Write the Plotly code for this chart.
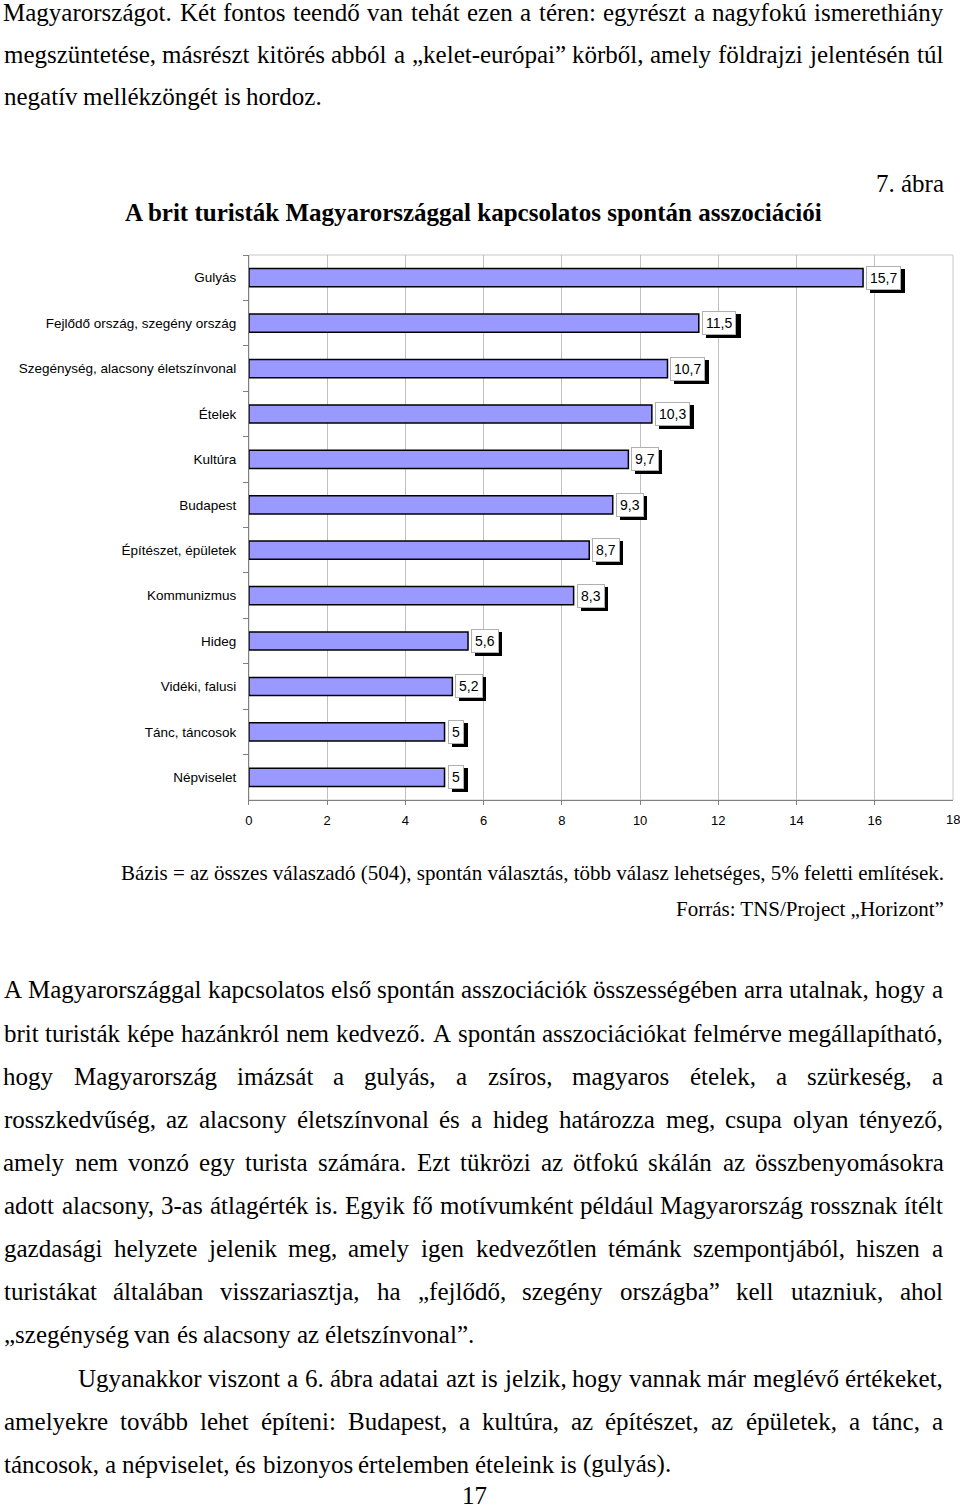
import plotly.graph_objects as go

# ---------------- chart data ----------------
categories = ["Gulyás", "Fejlődő ország, szegény ország", "Szegénység, alacsony életszínvonal",
              "Ételek", "Kultúra", "Budapest", "Építészet, épületek", "Kommunizmus",
              "Hideg", "Vidéki, falusi", "Tánc, táncosok", "Népviselet"]
values = [15.7, 11.5, 10.7, 10.3, 9.7, 9.3, 8.7, 8.3, 5.6, 5.2, 5, 5]
x_ticks = [0, 2, 4, 6, 8, 10, 12, 14, 16, 18]

# ---------------- page text ----------------
top_lines = [
    "Magyarországot. Két fontos teendő van tehát ezen a téren: egyrészt a nagyfokú ismerethiány",
    "megszüntetése, másrészt kitörés abból a „kelet-európai” körből, amely földrajzi jelentésén túl",
    "negatív mellékzöngét is hordoz.",
]
top_justify = [True, True, False]
fig_no = "7. ábra"
title = "A brit turisták Magyarországgal kapcsolatos spontán asszociációi"
caption = "Bázis = az összes válaszadó (504), spontán választás, több válasz lehetséges, 5% feletti említések."
source = "Forrás: TNS/Project „Horizont”"
body_lines = [
    "A Magyarországgal kapcsolatos első spontán asszociációk összességében arra utalnak, hogy a",
    "brit turisták képe hazánkról nem kedvező. A spontán asszociációkat felmérve megállapítható,",
    "hogy Magyarország imázsát a gulyás, a zsíros, magyaros ételek, a szürkeség, a",
    "rosszkedvűség, az alacsony életszínvonal és a hideg határozza meg, csupa olyan tényező,",
    "amely nem vonzó egy turista számára. Ezt tükrözi az ötfokú skálán az összbenyomásokra",
    "adott alacsony, 3-as átlagérték is. Egyik fő motívumként például Magyarország rossznak ítélt",
    "gazdasági helyzete jelenik meg, amely igen kedvezőtlen témánk szempontjából, hiszen a",
    "turistákat általában visszariasztja, ha „fejlődő, szegény országba” kell utazniuk, ahol",
    "„szegénység van és alacsony az életszínvonal”.",
    "Ugyanakkor viszont a 6. ábra adatai azt is jelzik, hogy vannak már meglévő értékeket,",
    "amelyekre tovább lehet építeni: Budapest, a kultúra, az építészet, az épületek, a tánc, a",
    "táncosok, a népviselet, és bizonyos értelemben ételeink is (gulyás).",
]
body_justify = [True, True, True, True, True, True, True, True, False, True, True, False]
body_indent = [0, 0, 0, 0, 0, 0, 0, 0, 0, 75, 0, 0]
page_no = "17"

# ---------------- layout constants ----------------
W, H = 960, 1508
SERIF = "Liberation Serif, Times New Roman, serif"
SANS = "Liberation Sans, Arial, sans-serif"
FS = 25
PLOT_L, PLOT_R, PLOT_T, PLOT_B = 246, 953, 255, 800
TEXT_L, TEXT_R = 0, 943
PAD_L, PAD_R = -5, 2   # compensate annotation box padding at text edges

# Times Roman advance widths (1/1000 em)
TW = {' ': 250, '!': 333, '"': 408, '%': 833, '(': 333, ')': 333, ',': 250, '-': 333, '.': 250,
      '/': 278, ':': 278, ';': 278, '=': 564, '„': 444, '”': 444, '“': 444}
for d in "0123456789":
    TW[d] = 500
TW.update(dict(zip("ABCDEFGHIJKLMNOPQRSTUVWXYZ",
                   [722, 667, 667, 722, 611, 556, 722, 722, 333, 389, 722, 611, 889, 722, 722, 556,
                    722, 667, 556, 611, 722, 722, 944, 722, 722, 611])))
TW.update(dict(zip("abcdefghijklmnopqrstuvwxyz",
                   [444, 500, 444, 500, 444, 333, 500, 500, 278, 278, 500, 278, 778, 500, 500, 500,
                    500, 333, 389, 278, 500, 500, 722, 500, 500, 444])))
TW.update({'á': 444, 'é': 444, 'í': 278, 'ó': 500, 'ö': 500, 'ő': 500, 'ú': 500, 'ü': 500, 'ű': 500,
           'Á': 722, 'É': 611, 'Í': 333, 'Ó': 722, 'Ö': 722, 'Ő': 722, 'Ú': 722, 'Ü': 722, 'Ű': 722})


def tw(s, size=FS):
    return sum(TW.get(c, 500) for c in s) * size / 1000.0


def px(x):
    return x / W


def py(y):
    return 1 - y / H


annotations = []


def text_ann(text, x, y, anchor="left", size=FS, bold=False):
    shift = PAD_L if anchor == "left" else (PAD_R if anchor == "right" else 0)
    annotations.append(dict(
        text=f"<b>{text}</b>" if bold else text, x=px(x), y=py(y), xref="paper", yref="paper",
        xanchor=anchor, yanchor="middle", showarrow=False, borderpad=0, xshift=shift,
        font=dict(family=SERIF, size=size, color="black")))


def place_line(line, y, x0, x1, justify):
    # every word is centred on its computed slot so width-table errors spread evenly
    words = line.split(" ")
    widths = [tw(w) for w in words]
    if justify and len(words) > 1:
        gap = (x1 - x0 - sum(widths)) / (len(words) - 1)
    else:
        gap = tw(" ")
    x = x0
    for w, wd in zip(words, widths):
        text_ann(w, x + wd / 2, y, anchor="center")
        x += wd + gap


top_y = [12, 54, 97]
for line, j, y in zip(top_lines, top_justify, top_y):
    place_line(line, y, TEXT_L, TEXT_R, j)

text_ann(fig_no, TEXT_R, 183, anchor="right")
text_ann(title, (TEXT_L + TEXT_R) / 2, 212, anchor="center", bold=True)
text_ann(caption, TEXT_R, 873, anchor="right", size=21)
text_ann(source, TEXT_R, 909, anchor="right", size=21)

body_y = [990, 1033, 1076, 1119, 1162, 1205, 1248, 1291, 1334, 1378, 1421, 1464]
for line, j, ind, y in zip(body_lines, body_justify, body_indent, body_y):
    place_line(line, y, TEXT_L + ind, TEXT_R, j)

text_ann(page_no, 472, 1495, anchor="center")

# last x tick label sits on the figure edge: draw it as an annotation so it is not hidden
TICK_Y = 820
annotations.append(dict(
    text=str(x_ticks[-1]), x=x_ticks[-1], xref="x", y=py(TICK_Y), yref="paper",
    xanchor="center", yanchor="middle", showarrow=False, borderpad=0,
    font=dict(family=SANS, size=13, color="black")))

# ---------------- value labels with shadow ----------------
def fmt(v):
    s = f"{v:g}"
    return s.replace(".", ",")


def blank(s):
    # same-width invisible placeholder (figure space for digits, punctuation space for comma)
    return "".join("\u2007" if c.isdigit() else "\u2008" for c in s)


LBL_FONT = 14
for cat, v in zip(categories, values):
    annotations.append(dict(
        x=v, y=cat, xref="x", yref="y", text=blank(fmt(v)), showarrow=False,
        xanchor="left", yanchor="middle", xshift=7, yshift=-3,
        bgcolor="black", bordercolor="black", borderwidth=1, borderpad=3,
        font=dict(family=SANS, size=LBL_FONT, color="black")))
for cat, v in zip(categories, values):
    annotations.append(dict(
        x=v, y=cat, xref="x", yref="y", text=fmt(v), showarrow=False,
        xanchor="left", yanchor="middle", xshift=3,
        bgcolor="white", bordercolor="#b0b0b0", borderwidth=1, borderpad=3,
        font=dict(family=SANS, size=LBL_FONT, color="black")))

# ---------------- figure ----------------
fig = go.Figure(go.Bar(
    x=values, y=categories, orientation="h", width=0.4,
    marker=dict(color="#9999FF", line=dict(color="#000000", width=1.5)),
    hoverinfo="skip"))

fig.update_layout(
    width=W, height=H, autosize=False, margin=dict(l=0, r=0, t=0, b=0),
    paper_bgcolor="white", plot_bgcolor="white", showlegend=False,
    annotations=annotations,
    shapes=[dict(type="rect", xref="x domain", yref="y domain", x0=0, x1=1, y0=0, y1=1,
                 line=dict(color="#c8c8c8", width=1), layer="below")],
)
fig.update_xaxes(
    domain=[px(PLOT_L), px(PLOT_R)], range=[0, 18], tickvals=x_ticks[:-1],
    ticktext=[str(t) for t in x_ticks[:-1]], showgrid=True, gridcolor="#c0c0c0", gridwidth=1,
    showline=True, linecolor="#808080", linewidth=1, ticks="outside", ticklen=4,
    tickcolor="#808080", zeroline=False, ticklabelstandoff=4,
    tickfont=dict(family=SANS, size=13, color="black"))
fig.update_yaxes(
    domain=[py(PLOT_B), py(PLOT_T)], categoryorder="array", categoryarray=categories,
    autorange="reversed", showgrid=False, showline=True, linecolor="#808080", linewidth=1,
    ticks="outside", ticklen=5, tickcolor="#808080", tickson="boundaries",
    ticklabelstandoff=9,
    tickfont=dict(family=SANS, size=13.5, color="black"))

fig.write_html("out.html", config={"displayModeBar": False},
               post_script="document.body.style.margin='0';")
